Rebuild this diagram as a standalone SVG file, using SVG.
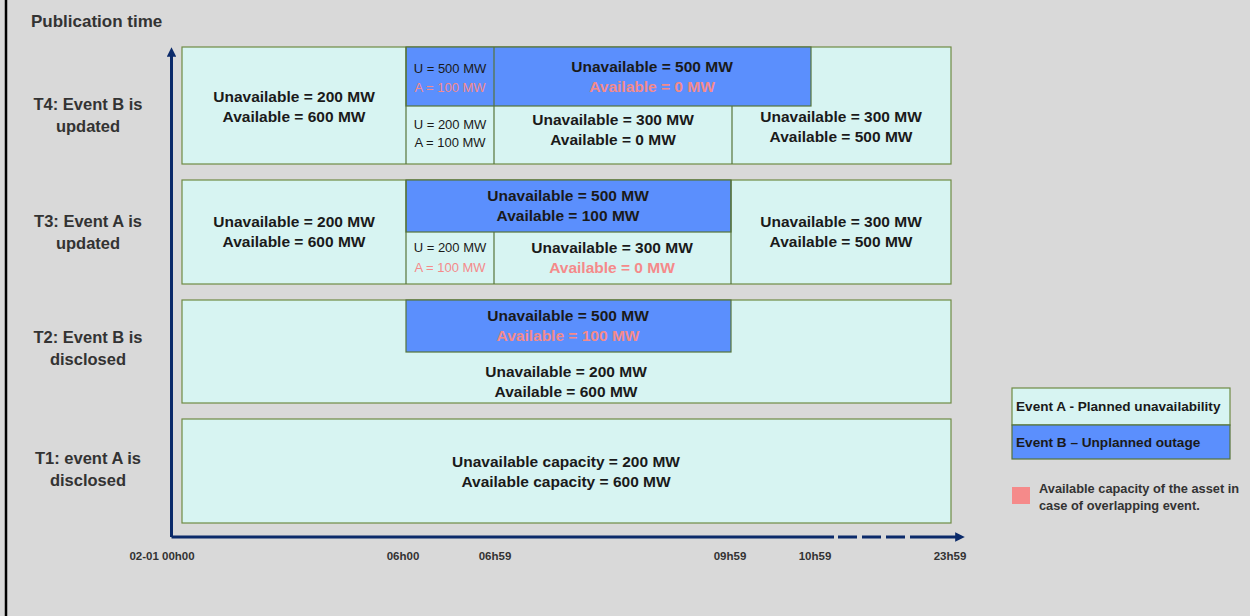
<svg xmlns="http://www.w3.org/2000/svg" width="1250" height="616" viewBox="0 0 1250 616">
<defs>
<style>
text{font-family:"Liberation Sans",Arial,sans-serif;font-weight:bold;fill:#1a1a1a;text-anchor:middle}
.big{font-size:15.5px}
.sm{font-size:13px;font-weight:normal}
.lbl{font-size:16.5px;fill:#333}
.ax{font-size:11.5px;fill:#333}
.pk{fill:#f58a8a}
.lt{fill:#d7f4f2;stroke:#6f8a44;stroke-width:1.2}
.bl{fill:#5b8ffd;stroke:#56733a;stroke-width:1.2}
.dv{stroke:#56733a;stroke-width:1.2}
.axis{stroke:#0b2a6a;stroke-width:3;fill:none}
</style>
<marker id="ah" viewBox="0 0 10 10" refX="5" refY="5" markerWidth="3.2" markerHeight="3.2" orient="auto-start-reverse"><path d="M0,0L10,5L0,10z" fill="#0b2a6a"/></marker>
</defs>
<rect width="1250" height="616" fill="#d9d9d9"/>
<line x1="6" y1="0" x2="6" y2="616" stroke="#000" stroke-width="2.5"/>
<text x="31" y="27" style="text-anchor:start;font-size:17px;fill:#333">Publication time</text>

<g id="axes">
<path class="axis" d="M171.5,537 L171.5,52" marker-end="url(#ah)"/>
<path class="axis" d="M171.5,537 L834,537"/>
<path class="axis" d="M838,537 L929,537" stroke-dasharray="19,5"/>
<path class="axis" d="M929,537 L960,537" marker-end="url(#ah)"/>
</g>

<g id="row-labels">
<text class="lbl" x="88" y="110">T4: Event B is</text>
<text class="lbl" x="88" y="132">updated</text>
<text class="lbl" x="88" y="227">T3: Event A is</text>
<text class="lbl" x="88" y="249">updated</text>
<text class="lbl" x="88" y="343">T2: Event B is</text>
<text class="lbl" x="88" y="365">disclosed</text>
<text class="lbl" x="88" y="464">T1: event A is</text>
<text class="lbl" x="88" y="486">disclosed</text>
</g>

<g id="t4">
<rect class="lt" x="182" y="47" width="769" height="117"/>
<rect class="bl" x="406" y="47" width="405" height="59"/>
<line class="dv" x1="406" y1="47" x2="406" y2="164"/>
<line class="dv" x1="494" y1="47" x2="494" y2="164"/>
<line class="dv" x1="732" y1="106" x2="732" y2="164"/>
<text class="big" x="294" y="102">Unavailable = 200 MW</text>
<text class="big" x="294" y="122">Available = 600 MW</text>
<text class="sm" x="450" y="73">U = 500 MW</text>
<text class="sm pk" x="450" y="92">A = 100 MW</text>
<text class="big" x="652" y="72">Unavailable = 500 MW</text>
<text class="big pk" x="652" y="92">Available = 0 MW</text>
<text class="sm" x="450" y="129">U = 200 MW</text>
<text class="sm" x="450" y="147">A = 100 MW</text>
<text class="big" x="613" y="125">Unavailable = 300 MW</text>
<text class="big" x="613" y="145">Available = 0 MW</text>
<text class="big" x="841" y="122">Unavailable = 300 MW</text>
<text class="big" x="841" y="142">Available = 500 MW</text>
</g>

<g id="t3">
<rect class="lt" x="182" y="180" width="769" height="104"/>
<rect class="bl" x="406" y="180" width="325" height="52"/>
<line class="dv" x1="406" y1="180" x2="406" y2="284"/>
<line class="dv" x1="494" y1="232" x2="494" y2="284"/>
<line class="dv" x1="731" y1="180" x2="731" y2="284"/>
<text class="big" x="294" y="227">Unavailable = 200 MW</text>
<text class="big" x="294" y="247">Available = 600 MW</text>
<text class="big" x="568" y="201">Unavailable = 500 MW</text>
<text class="big" x="568" y="221">Available = 100 MW</text>
<text class="sm" x="450" y="252">U = 200 MW</text>
<text class="sm pk" x="450" y="272">A = 100 MW</text>
<text class="big" x="612" y="253">Unavailable = 300 MW</text>
<text class="big pk" x="612" y="273">Available = 0 MW</text>
<text class="big" x="841" y="227">Unavailable = 300 MW</text>
<text class="big" x="841" y="247">Available = 500 MW</text>
</g>

<g id="t2">
<rect class="lt" x="182" y="300" width="769" height="103"/>
<rect class="bl" x="406" y="300" width="325" height="52"/>
<text class="big" x="568" y="321">Unavailable = 500 MW</text>
<text class="big pk" x="568" y="341">Available = 100 MW</text>
<text class="big" x="566" y="377">Unavailable = 200 MW</text>
<text class="big" x="566" y="397">Available = 600 MW</text>
</g>

<g id="t1">
<rect class="lt" x="182" y="419" width="769" height="104"/>
<text class="big" x="566" y="467">Unavailable capacity = 200 MW</text>
<text class="big" x="566" y="487">Available capacity = 600 MW</text>
</g>

<g id="ticks">
<text class="ax" x="162" y="560">02-01 00h00</text>
<text class="ax" x="403" y="560">06h00</text>
<text class="ax" x="495" y="560">06h59</text>
<text class="ax" x="730" y="560">09h59</text>
<text class="ax" x="815" y="560">10h59</text>
<text class="ax" x="950" y="560">23h59</text>
</g>

<g id="legend">
<rect class="lt" x="1012" y="388" width="218" height="37"/>
<rect class="bl" x="1012" y="425" width="218" height="34"/>
<text x="1016" y="411" style="text-anchor:start;font-size:13.6px">Event A - Planned unavailability</text>
<text x="1016" y="447" style="text-anchor:start;font-size:13.6px">Event B – Unplanned outage</text>
<rect x="1012" y="487" width="18" height="17" fill="#f58a8a"/>
<text x="1039" y="493" style="text-anchor:start;font-size:12.8px;fill:#333">Available capacity of the asset in</text>
<text x="1039" y="510" style="text-anchor:start;font-size:12.8px;fill:#333">case of overlapping event.</text>
</g>
</svg>
